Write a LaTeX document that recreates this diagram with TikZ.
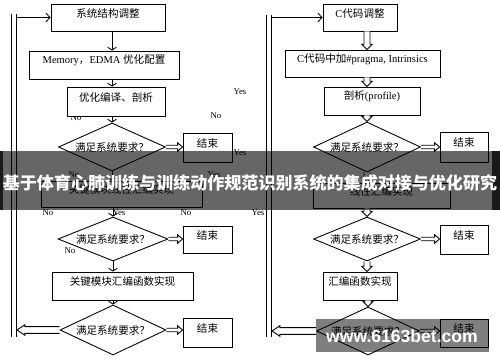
\documentclass[tikz,border=0pt]{standalone}
\usepackage{fontspec}
\setmainfont{Liberation Serif}
\newfontfamily\cjk{Noto Sans CJK SC}
\newfontfamily\wmfont{Liberation Sans}
\usetikzlibrary{shapes.geometric,arrows.meta,fit,calc}
\newcommand\fatR[5]{\draw[fatline] let \p1=(#1),\p2=(#2) in (\x1,\y1+#3) -- (\x2-#5,\y1+#3) -- (\x2-#5,\y1+#4) -- (\x2,\y1) -- (\x2-#5,\y1-#4) -- (\x2-#5,\y1-#3) -- (\x1,\y1-#3);}
\newcommand\fatL[5]{\draw[fatline] let \p1=(#1),\p2=(#2) in (\x1,\y1+#3) -- (\x2+#5,\y1+#3) -- (\x2+#5,\y1+#4) -- (\x2,\y1) -- (\x2+#5,\y1-#4) -- (\x2+#5,\y1-#3) -- (\x1,\y1-#3);}
\newcommand\fatD[5]{\draw[fatline] let \p1=(#1),\p2=(#2) in (\x1+#3,\y1) -- (\x1+#3,\y2+#5) -- (\x1+#4,\y2+#5) -- (\x1,\y2) -- (\x1-#4,\y2+#5) -- (\x1-#3,\y2+#5) -- (\x1-#3,\y1);}
\begin{document}
\begin{tikzpicture}[x=0.02cm,y=-0.02cm,
 box/.style={draw, fill=white, inner sep=0, line width=0.5pt, font=\cjk\fontsize{6}{7}\selectfont},
 dia/.style={diamond, draw, fill=white, inner sep=0, shape aspect=2.2, line width=0.5pt, font=\cjk\fontsize{6}{7}\selectfont},
 lbl/.style={inner sep=0, font=\fontsize{5}{6}\selectfont},
 sarrow/.style={line width=0.5pt, -{Straight Barb[length=1.6pt,width=5pt]}},
 toparrow/.style={line width=0.5pt, -{Straight Barb[length=2.3pt,width=5pt]}},
 fatline/.style={draw, fill=white, line width=0.5pt, line join=miter},
 dline/.style={double, double distance=2.2pt, line width=0.5pt}]
\useasboundingbox (0,0) rectangle (500,362);
\fill[white] (0,0) rectangle (500,362);

% labels (drawn first, some partly covered)
\node[lbl] (y1) at (240,92) {Yes};
\node[lbl] (n1) at (216,116) {No};
\node[lbl] (n2) at (76,118) {No};
\node[lbl] (y2) at (240,153) {Yes};
\node[lbl] (n3) at (74,175) {No};
\node[lbl] (y3) at (214,175) {Yes};
\node[lbl] (n4) at (48,213) {No};
\node[lbl] (y4) at (119,213) {Yes};
\node[lbl] (n5) at (186,213) {No};
\node[lbl] (n6) at (70,251) {No};
\node[lbl] (y5) at (218,251) {Yes};
\node[lbl] (y6) at (258,213) {Yes};

% left column
\node[box, fit={(51,4)(165,31)}] (b1) {系统结构调整};
\node[box, fit={(29,51)(179,79)}] (b2) {{\rmfamily Memory}，{\rmfamily EDMA }优化配置};
\node[box, fit={(67,87)(165,116)}] (b3) {优化编译、剖析};
\node[dia, minimum width={107*0.02cm}, minimum height={48*0.02cm}] (d1) at (112,147) {满足系统要求？};
\node[box, fit={(183,133)(232,162)}] (e1) {结束};
\node[box, fit={(41,181)(202,207)}] (b4) {关键模块线性汇编实现};
\node[dia, minimum width={110*0.02cm}, minimum height={44*0.02cm}] (d2) at (113,239) {满足系统要求？};
\node[box, fit={(183,226)(232,253)}] (e2) {结束};
\node[box, fit={(52,272)(193,300)}] (b5) {关键模块汇编函数实现};
\node[dia, minimum width={106*0.02cm}, minimum height={50*0.02cm}] (d3) at (113,330) {满足系统要求？};
\node[box, fit={(183,318)(232,347)}] (e3) {结束};

% right column
\node[box, fit={(323,4)(397,31)}] (r1) {{\rmfamily C}代码调整};
\node[box, fit={(285,50)(440,77)}] (r2) {{\rmfamily C}代码中加{\rmfamily \#pragma, Intrinsics}};
\node[box, fit={(324,87)(420,115)}] (r3) {剖析{\rmfamily (profile)}};
\node[dia, minimum width={107*0.02cm}, minimum height={50*0.02cm}] (dr1) at (367,147) {满足系统要求？};
\node[box, fit={(440,132)(488,162)}] (er1) {结束};
\node[box, fit={(313,183)(450,208)}] (r4) {线性汇编实现};
\node[dia, minimum width={107*0.02cm}, minimum height={44*0.02cm}] (dr2) at (367,239) {满足系统要求？};
\node[box, fit={(440,225)(488,254)}] (er2) {结束};
\node[box, fit={(323,272)(397,300)}] (r5) {汇编函数实现};
\node[dia, minimum width={103*0.02cm}, minimum height={48*0.02cm}] (dr3) at (368,331) {满足系统要求？};
\node[box, fit={(440,319)(488,347)}] (er3) {结束};

% left connectors
\draw[sarrow] (b1.south -| d1) -- (b2.north -| d1);
\draw[sarrow] (b2.south -| d1) -- (b3.north -| d1);
\draw[sarrow] (b3.south -| d1) -- (d1.north);
\draw[sarrow] (d1.south) -- (b4.north -| d1);
\draw[sarrow] (b4.south -| d2) -- (d2.north);
\draw[sarrow] (d2.south) -- (b5.north -| d2);
\draw[sarrow] (b5.south -| d3) -- (d3.north);
\fatR{d1.east}{e1.west}{1pt}{2.4pt}{2.8pt}
\fatR{d2.east}{e2.west}{1pt}{2.4pt}{2.8pt}
\fatR{d3.east}{e3.west}{1pt}{2.4pt}{2.8pt}

% right connectors
\fatD{r1.south -| dr1}{r2.north -| dr1}{1.7pt}{3pt}{3pt}
\fatD{r2.south -| dr1}{r3.north -| dr1}{1.7pt}{3pt}{3pt}
\fatD{r3.south -| dr1}{dr1.north}{1.7pt}{3pt}{3pt}
\fatD{dr1.south}{r4.north -| dr1}{1.7pt}{3pt}{3pt}
\fatD{r4.south -| dr2}{dr2.north}{1.7pt}{3pt}{3pt}
\fatD{dr2.south}{r5.north -| dr2}{1.7pt}{3pt}{3pt}
\fatD{r5.south -| dr3}{dr3.north}{1.7pt}{3pt}{3pt}
\fatR{dr1.east}{er1.west}{1pt}{2.4pt}{2.8pt}
\fatR{dr2.east}{er2.west}{1pt}{2.4pt}{2.8pt}
\fatR{dr3.east}{er3.west}{1pt}{2.4pt}{2.8pt}

% feedback lines
\coordinate (lt) at (14,14);
\coordinate (lb) at (14,337);
\coordinate (lh) at (16,17.5);
\coordinate (L3) at (17,330);
\draw[dline] (lb) -- (lt);
\draw[toparrow] (lh) -- (b1.west);
\fatL{d3.west}{L3}{1.9pt}{3pt}{4.5pt}

\coordinate (rt) at (269,15);
\coordinate (rb) at (269,337);
\coordinate (rh) at (271,17.5);
\coordinate (R3) at (272,331);
\draw[dline] (rb) -- (rt);
\draw[toparrow] (rh) -- (r1.west);
\fatL{dr3.west}{R3}{1.9pt}{3pt}{4.5pt}

% banner overlay
\fill[black, opacity=0.6] (3,151) rectangle (492,210);
\fill[black, opacity=0.9] (0,151) rectangle (3,210);
\fill[black, opacity=0.9] (492,151) rectangle (500,210);
\node[text=white, inner sep=0, font=\cjk\bfseries\fontsize{9.7}{11}\selectfont] (title) at (250,183) {基于体育心肺训练与训练动作规范识别系统的集成对接与优化研究};

% watermark
\fill[black, opacity=0.5] (316,319) rectangle (489,352);
\node[text=white, inner sep=0, font=\wmfont\bfseries\fontsize{10}{12}\selectfont] (wm) at (402,336) {www.6163bet.com};
\end{tikzpicture}
\end{document}
